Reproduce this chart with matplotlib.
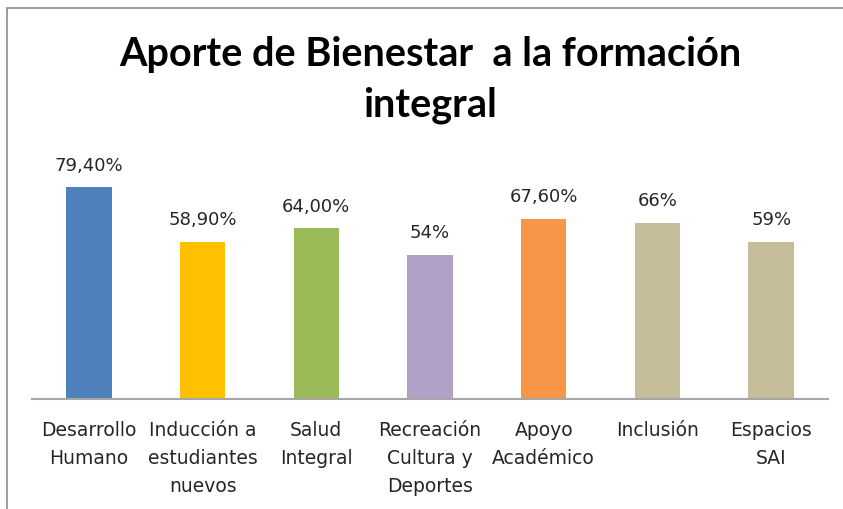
import matplotlib
matplotlib.use("Agg")
import matplotlib.pyplot as plt
from matplotlib.patches import Rectangle

# data
categories  =  ['Desarrollo\nHumano', 'Inducción a\nestudiantes\nnuevos', 'Salud\nIntegral',
                'Recreación\nCultura y\nDeportes', 'Apoyo\nAcadémico', 'Inclusión', 'Espacios\nSAI']
values      =  [79.4, 58.9, 64.0, 54, 67.6, 66, 59]
labels      =  ['79,40%', '58,90%', '64,00%', '54%', '67,60%', '66%', '59%']
colors      =  ['#4F81BD', '#FFC000', '#9BBB59', '#B2A1C7', '#F79646', '#C4BD97', '#C4BD97']

title       =  'Aporte de Bienestar  a la formación\nintegral'

text_color  =  '#262626'
plt.rcParams['font.family'] = ['DejaVu Sans']

fig  =  plt.figure(figsize=(8.43, 5.09), dpi=100)

# chart border (cropped on right and bottom)
fig.patches.append(Rectangle((7/843, -0.1), 1.2, 1 - 8/509 + 0.1, transform=fig.transFigure,
                             fill=False, edgecolor='#8c8c8c', linewidth=1.2))

ax  =  fig.add_axes([32/843, 1 - 399/509, 796/843, 240/509])

x  =  range(len(values))
ax.bar(x, values, width=0.4, color=colors, zorder=2)

for xi, v, lab in zip(x, values, labels):
    ax.annotate(lab, (xi, v), xytext=(0, 12), textcoords='offset points',
                ha='center', va='baseline', fontsize=13, color=text_color)

ax.set_xlim(-0.5, len(values) - 0.5)
ax.set_ylim(0, 90)
ax.set_xticks(list(x))
ax.set_xticklabels(categories, fontsize=13.5, color=text_color, linespacing=1.58)
ax.tick_params(axis='x', length=0, pad=16)
ax.set_yticks([])

for side in ['top', 'right', 'left']:
    ax.spines[side].set_visible(False)
ax.spines['bottom'].set_color('#a6a6a6')
ax.spines['bottom'].set_linewidth(1.5)

fig.text(430/843, 1 - 36/509, title, ha='center', va='top', fontsize=28.5,
         fontweight='bold', family=['Lato', 'DejaVu Sans'], color='black', linespacing=1.45)

fig.savefig('out.png', dpi=100)
